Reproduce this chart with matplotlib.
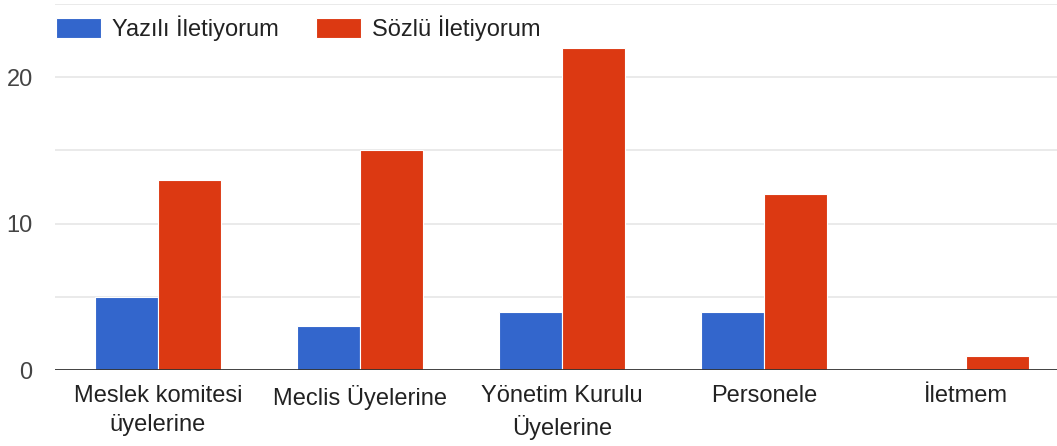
import numpy as np
import matplotlib.pyplot as plt

categories = ["Meslek komitesi\nüyelerine", "Meclis Üyelerine", "Yönetim Kurulu\nÜyelerine",
              "Personele", "İletmem"]
yazili = [5, 3, 4, 4, 0]
sozlu = [13, 15, 22, 12, 1]
series_names = ["Yazılı İletiyorum", "Sözlü İletiyorum"]

plt.rcParams['font.family'] = ['Liberation Sans', 'DejaVu Sans']

fig = plt.figure(figsize=(10.57, 4.46), dpi=100)
ax = fig.add_axes([0.052, 0.170, 0.948, 0.821])

x = np.arange(len(categories))
w = 0.312
ax.bar(x - w / 2, yazili, w, color="#3366CC", edgecolor="white", linewidth=0.8,
       label=series_names[0], zorder=2)
ax.bar(x + w / 2, sozlu, w, color="#DC3912", edgecolor="white", linewidth=0.8,
       label=series_names[1], zorder=2)

ax.set_xlim(-0.51, 4.45)
ax.set_ylim(0, 25)
ax.set_yticks([0, 10, 20])
ax.set_yticks([5, 15, 25], minor=True)
ax.grid(axis="y", which="both", color="#e6e6e6", linewidth=1.2, zorder=0)
ax.axhline(0, color="#333333", linewidth=2, zorder=3)

ax.set_xticks(x)
ax.set_xticklabels(categories, fontsize=17, color="#222222", linespacing=1.4)
ax.tick_params(axis="y", labelsize=17, labelcolor="#444444", length=0, pad=16)
ax.tick_params(axis="y", which="minor", length=0)
ax.tick_params(axis="x", length=0, pad=11)
for s in ax.spines.values():
    s.set_visible(False)

ax.legend(loc="upper left", bbox_to_anchor=(-0.011, 1.0), ncol=2, frameon=False,
          fontsize=17, handlelength=1.9, handleheight=0.95, columnspacing=1.55,
          handletextpad=0.5, borderaxespad=0.4, borderpad=0.1, labelcolor="#222222")

fig.savefig("out.png", dpi=100)
